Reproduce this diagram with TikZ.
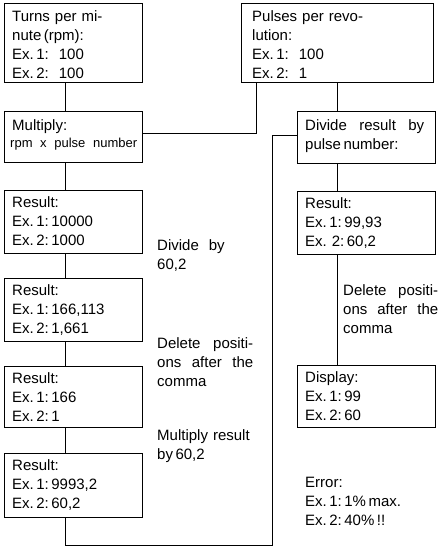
\documentclass[tikz,border=0pt]{standalone}
\usepackage{fontspec}
\setmainfont{Liberation Sans}
\begin{document}
\begin{tikzpicture}[x=1pt,y=-1pt,
  box/.style={draw=black, line width=0.8pt, anchor=north west, inner sep=0pt},
  txt/.style={anchor=base west, inner sep=0pt, align=left,
    font=\fontsize{15}{19}\selectfont},
  small/.style={anchor=base west, inner sep=0pt, align=left,
    font=\fontsize{13}{15}\selectfont},
  link/.style={draw=black, line width=0.8pt}]
\useasboundingbox (0,0) rectangle (439,547);

% spines used by the vertical connectors
\coordinate (spineL) at (65,0);
\coordinate (spineM) at (256,0);
\coordinate (spineR) at (337,0);
\coordinate (spineB) at (272,0);
\coordinate (bottom) at (0,545);

% left column
\node[box, minimum width=138pt, minimum height=79pt] (turns) at (4,3) {};
\node[txt, text width=128pt] (turnsT) at (12,21)
  {Turns per mi-\\nute\,(rpm):\\Ex.\,1:\ \ 100\\Ex.\,2:\ \ 100};

\node[box, minimum width=138pt, minimum height=51pt] (mult) at (4,111) {};
\node[txt, text width=128pt] (multT) at (12,130) {Multiply:};
\node[small, text width=127pt] (multS) at (10,147)
  {rpm\hfill x\hfill pulse\hfill number};

\node[box, minimum width=138pt, minimum height=63pt] (resA) at (4,190) {};
\node[txt, text width=128pt] (resAT) at (12,207)
  {Result:\\Ex.\,1:\,10000\\Ex.\,2:\,1000};

\node[box, minimum width=138pt, minimum height=63pt] (resB) at (4,278) {};
\node[txt, text width=128pt] (resBT) at (12,295)
  {Result:\\Ex.\,1:\,166,113\\Ex.\,2:\,1,661};

\node[box, minimum width=138pt, minimum height=61pt] (resC) at (4,366) {};
\node[txt, text width=128pt] (resCT) at (12,383)
  {Result:\\Ex.\,1:\,166\\Ex.\,2:\,1};

\node[box, minimum width=138pt, minimum height=64pt] (resD) at (4,453) {};
\node[txt, text width=128pt] (resDT) at (12,470)
  {Result:\\Ex.\,1:\,9993,2\\Ex.\,2:\,60,2};

% notes between the left boxes
\node[txt, text width=70pt] (divby) at (157,250) {Divide\ \ by\\60,2};
\node[txt, text width=96pt] (delL) at (157,348)
  {Delete\hfill positi-\\ons\hfill after\hfill the\\comma};
\node[txt, text width=110pt] (mulres) at (157,440) {Multiply result\\by\,60,2};

% right column
\node[box, minimum width=192pt, minimum height=79pt] (pulses) at (241,3) {};
\node[txt, text width=175pt] (pulsesT) at (252,21)
  {Pulses per revo-\\lution:\\Ex.\,1:\ \ 100\\Ex.\,2:\ \ 1};

\node[box, minimum width=138pt, minimum height=52pt] (divide) at (297,111) {};
\node[txt, text width=119pt] (divideT) at (305,130)
  {Divide\hfill result\hfill by\\pulse\,number:};

\node[box, minimum width=138pt, minimum height=63pt] (resR) at (297,191) {};
\node[txt, text width=128pt] (resRT) at (305,208)
  {Result:\\Ex.\,1:\,99,93\\Ex.~2:\,60,2};

\node[txt, text width=95pt] (delR) at (343,295)
  {Delete\hfill positi-\\ons\hfill after\hfill the\\comma};

\node[box, minimum width=138pt, minimum height=62pt] (display) at (297,365) {};
\node[txt, text width=128pt] (displayT) at (305,382)
  {Display:\\Ex.\,1:\,99\\Ex.\,2:\,60};

\node[txt, text width=125pt] (error) at (305,487)
  {Error:\\Ex.\,1:\,1\%\,max.\\Ex.\,2:\,40\%\,!!};

% connectors
\draw[link] (turns.south -| spineL) -- (mult.north -| spineL);
\draw[link] (mult.south -| spineL) -- (resA.north -| spineL);
\draw[link] (resA.south -| spineL) -- (resB.north -| spineL);
\draw[link] (resB.south -| spineL) -- (resC.north -| spineL);
\draw[link] (resC.south -| spineL) -- (resD.north -| spineL);
\draw[link] (mult.east |- 0,133) -| (pulses.south -| spineM);
\draw[link] (pulses.south -| spineR) -- (divide.north -| spineR);
\draw[link] (divide.south -| spineR) -- (resR.north -| spineR);
\draw[link] (resR.south -| spineR) -- (display.north -| spineR);
\draw[link] (divide.west |- 0,135) -| (bottom -| spineB)
  -| (resD.south -| spineL);
\end{tikzpicture}
\end{document}
